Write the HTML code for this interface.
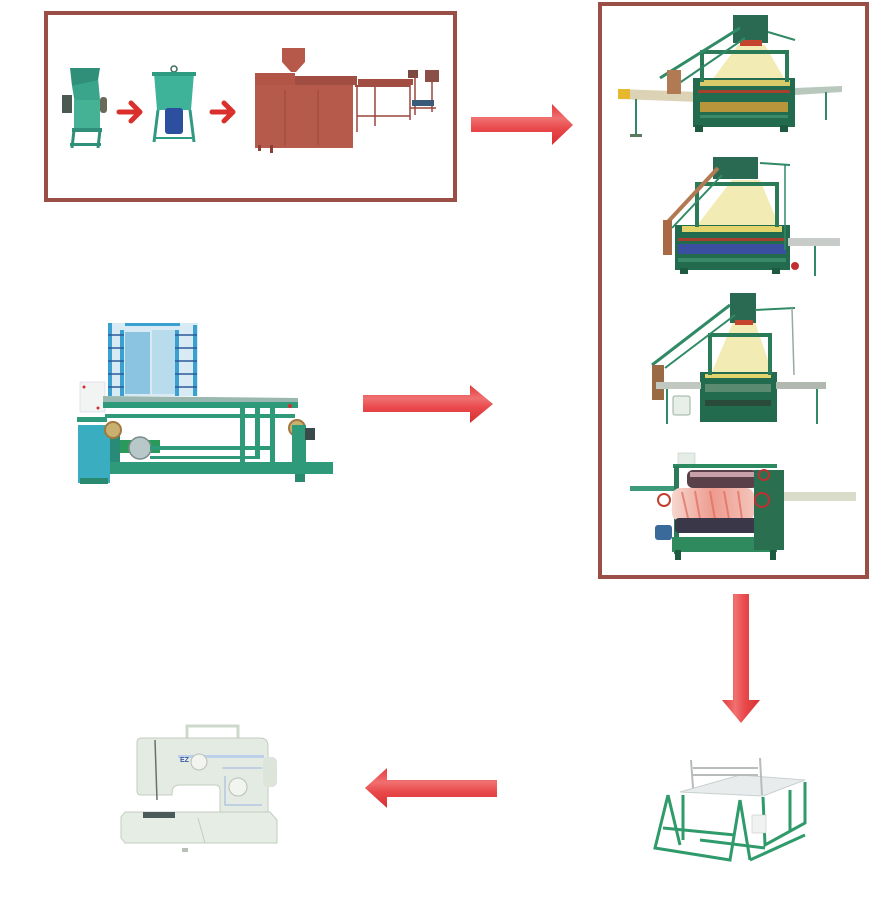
<!DOCTYPE html>
<html><head><meta charset="utf-8"><style>
html,body{margin:0;padding:0;background:#fff;}
svg{display:block;}
text{font-family:"Liberation Sans",sans-serif;}
</style></head><body>
<svg width="880" height="920" viewBox="0 0 880 920" xmlns="http://www.w3.org/2000/svg">
<defs>
<linearGradient id="ah" x1="0" y1="0" x2="0" y2="1">
<stop offset="0" stop-color="#e23a3c"/><stop offset="0.35" stop-color="#f07070"/><stop offset="0.6" stop-color="#e9494b"/><stop offset="1" stop-color="#d62f33"/></linearGradient>
<linearGradient id="av" x1="0" y1="0" x2="1" y2="0">
<stop offset="0" stop-color="#e23a3c"/><stop offset="0.35" stop-color="#f07070"/><stop offset="0.6" stop-color="#e9494b"/><stop offset="1" stop-color="#d62f33"/></linearGradient>
<linearGradient id="pink" x1="0" y1="0" x2="1" y2="0">
<stop offset="0" stop-color="#f6d6cf"/><stop offset="0.5" stop-color="#ee9c8f"/><stop offset="1" stop-color="#f3c4bb"/></linearGradient>
</defs>

<!-- Box 1 -->
<rect x="46" y="13" width="409" height="187" fill="none" stroke="#9a4e45" stroke-width="4"/>
<!-- Box 2 -->
<rect x="600" y="4" width="267" height="573" fill="none" stroke="#9a4e45" stroke-width="4"/>

<!-- crusher -->
<g>
<polygon points="72,86 98,78 100,100 75,104" fill="#3aa58a"/>
<polygon points="70,68 100,68 98,80 72,86" fill="#2f8f78"/>
<rect x="74" y="100" width="26" height="30" fill="#46b295"/>
<rect x="62" y="95" width="10" height="18" fill="#4a5a50"/>
<rect x="100" y="97" width="7" height="16" rx="3" fill="#6a6a5a"/>
<rect x="72" y="128" width="30" height="4" fill="#2f8f78"/>
<line x1="74" y1="130" x2="72" y2="148" stroke="#2f8f78" stroke-width="3"/>
<line x1="100" y1="130" x2="98" y2="148" stroke="#2f8f78" stroke-width="3"/>
<rect x="70" y="143" width="31" height="3" fill="#2f8f78"/>
</g>
<!-- small arrows -->
<path d="M119,112 H138 M131,103 L140,112 L131,121" fill="none" stroke="#d9302c" stroke-width="5" stroke-linecap="round" stroke-linejoin="round"/>
<path d="M212,112 H231 M224,103 L233,112 L224,121" fill="none" stroke="#d9302c" stroke-width="5" stroke-linecap="round" stroke-linejoin="round"/>
<!-- tank -->
<g>
<circle cx="174" cy="69" r="3" fill="none" stroke="#3d6b60" stroke-width="1.5"/>
<polygon points="154,73 194,73 191,110 157,110" fill="#3fb39a"/>
<rect x="152" y="72" width="44" height="4" fill="#2f9a82"/>
<rect x="165" y="108" width="18" height="26" rx="3" fill="#2c4fa0"/>
<line x1="158" y1="110" x2="154" y2="142" stroke="#2f9a82" stroke-width="3"/>
<line x1="190" y1="110" x2="194" y2="142" stroke="#2f9a82" stroke-width="3"/>
<line x1="156" y1="138" x2="192" y2="138" stroke="#2f9a82" stroke-width="2"/>
</g>
<!-- extruder -->
<g>
<polygon points="282,48 305,48 305,62 296,72 291,72 282,62" fill="#b6584a"/>
<rect x="255" y="73" width="40" height="12" fill="#b25446"/>
<rect x="295" y="76" width="62" height="9" fill="#a24d42"/>
<rect x="255" y="85" width="98" height="63" fill="#b65a4c"/>
<line x1="285" y1="90" x2="285" y2="145" stroke="#9a463c" stroke-width="1"/>
<line x1="318" y1="90" x2="318" y2="145" stroke="#9a463c" stroke-width="1"/>
<rect x="270" y="145" width="3" height="8" fill="#8a4036"/>
<rect x="258" y="145" width="3" height="6" fill="#8a4036"/>
<rect x="358" y="79" width="55" height="6" fill="#a24d42"/>
<rect x="355" y="85" width="55" height="2" fill="#a24d42"/>
<line x1="357" y1="85" x2="357" y2="132" stroke="#9a463c" stroke-width="1.5"/>
<line x1="375" y1="87" x2="375" y2="126" stroke="#9a463c" stroke-width="1.5"/>
<line x1="410" y1="85" x2="410" y2="120" stroke="#9a463c" stroke-width="1.5"/>
<line x1="357" y1="116" x2="410" y2="116" stroke="#9a463c" stroke-width="1.5"/>
<rect x="408" y="70" width="10" height="8" fill="#7a4a40"/>
<rect x="425" y="70" width="14" height="12" fill="#8a5048"/>
<line x1="415" y1="75" x2="415" y2="115" stroke="#9a463c" stroke-width="1.5"/>
<line x1="432" y1="80" x2="432" y2="112" stroke="#9a463c" stroke-width="1.5"/>
<rect x="412" y="100" width="22" height="6" fill="#3a5a7a"/>
<line x1="410" y1="108" x2="436" y2="108" stroke="#9a463c" stroke-width="1.5"/>
</g>

<!-- Big arrow 1 -->
<polygon points="471,117 552,117 552,104 573,125 552,145 552,132 471,132" fill="url(#ah)"/>
<!-- Big arrow 2 -->
<polygon points="363,395 470,395 470,385 493,404 470,423 470,412 363,412" fill="url(#ah)"/>
<!-- Down arrow -->
<polygon points="733,594 749,594 749,700 760,700 741,723 722,700 733,700" fill="url(#av)"/>
<!-- Left arrow -->
<polygon points="497,780 387,780 387,768 365,788 387,808 387,797 497,797" fill="url(#ah)"/>

<!-- Loom 1 -->
<g>
<polygon points="618,89 700,92 700,102 618,99" fill="#dcd2b6"/>
<rect x="618" y="89" width="12" height="10" fill="#e6b830"/>
<line x1="636" y1="99" x2="636" y2="135" stroke="#2f8a65" stroke-width="2"/>
<rect x="630" y="134" width="12" height="3" fill="#5a7a60"/>
<polygon points="795,88 842,86 842,92 795,95" fill="#b8c8bc"/>
<line x1="826" y1="92" x2="826" y2="120" stroke="#2f8a65" stroke-width="2"/>
<polygon points="738,45 765,45 785,80 712,80" fill="#efe6a0" opacity="0.8"/>
<rect x="693" y="78" width="102" height="49" fill="#226b4e"/>
<rect x="700" y="80" width="90" height="6" fill="#d8cc6a"/>
<rect x="698" y="90" width="92" height="3" fill="#a8402e"/>
<rect x="700" y="102" width="88" height="10" fill="#b8943a"/>
<rect x="700" y="115" width="88" height="3" fill="#3a8a6a"/>
<rect x="700" y="50" width="4" height="32" fill="#2b7a58"/>
<rect x="785" y="50" width="4" height="32" fill="#2b7a58"/>
<rect x="700" y="50" width="89" height="4" fill="#2b7a58"/>
<rect x="733" y="15" width="35" height="28" fill="#2a6a52"/>
<rect x="740" y="40" width="22" height="6" fill="#c4442e"/>
<line x1="660" y1="78" x2="740" y2="28" stroke="#2f8a65" stroke-width="3"/>
<line x1="675" y1="86" x2="745" y2="38" stroke="#2f8a65" stroke-width="2"/>
<line x1="768" y1="32" x2="795" y2="40" stroke="#2f8a65" stroke-width="2"/>
<rect x="667" y="70" width="14" height="24" fill="#b27a52"/>
<rect x="695" y="125" width="8" height="7" fill="#1e5a40"/>
<rect x="780" y="125" width="8" height="7" fill="#1e5a40"/>
</g>

<!-- Loom 2 -->
<g>
<polygon points="732,180 760,180 780,228 695,228" fill="#efe6a0" opacity="0.8"/>
<rect x="675" y="225" width="115" height="45" fill="#226b4e"/>
<rect x="682" y="226" width="100" height="6" fill="#e2d46a"/>
<rect x="678" y="238" width="108" height="3" fill="#a8402e"/>
<rect x="678" y="244" width="108" height="10" fill="#3a4fa0"/>
<rect x="678" y="258" width="108" height="4" fill="#3a8a6a"/>
<rect x="695" y="185" width="4" height="42" fill="#2b7a58"/>
<rect x="775" y="185" width="4" height="42" fill="#2b7a58"/>
<rect x="695" y="182" width="84" height="4" fill="#2b7a58"/>
<rect x="713" y="157" width="45" height="22" fill="#2a6a52"/>
<line x1="665" y1="225" x2="718" y2="168" stroke="#b27a52" stroke-width="4"/>
<line x1="672" y1="228" x2="722" y2="175" stroke="#2f8a65" stroke-width="2"/>
<line x1="760" y1="163" x2="790" y2="165" stroke="#2f8a65" stroke-width="2"/>
<line x1="785" y1="165" x2="785" y2="250" stroke="#2f8a65" stroke-width="1.5"/>
<rect x="663" y="220" width="9" height="35" fill="#a86a44"/>
<rect x="788" y="238" width="52" height="8" fill="#c8ccc8"/>
<line x1="815" y1="246" x2="815" y2="276" stroke="#2f8a65" stroke-width="2"/>
<circle cx="795" cy="266" r="4" fill="#c03030"/>
<rect x="680" y="268" width="8" height="6" fill="#1e5a40"/>
<rect x="772" y="268" width="8" height="6" fill="#1e5a40"/>
</g>

<!-- Loom 3 -->
<g>
<polygon points="733,322 755,322 772,372 712,372" fill="#efe6a0" opacity="0.8"/>
<rect x="700" y="372" width="77" height="50" fill="#226b4e"/>
<rect x="705" y="374" width="66" height="4" fill="#e2d46a"/>
<rect x="705" y="384" width="66" height="8" fill="#5a8a70"/>
<rect x="705" y="400" width="66" height="6" fill="#2a4a3a"/>
<rect x="708" y="335" width="4" height="40" fill="#2b7a58"/>
<rect x="768" y="335" width="4" height="40" fill="#2b7a58"/>
<rect x="708" y="333" width="64" height="4" fill="#2b7a58"/>
<rect x="730" y="293" width="26" height="30" fill="#2a6a52"/>
<rect x="735" y="320" width="18" height="5" fill="#c4442e"/>
<line x1="652" y1="365" x2="730" y2="305" stroke="#2f8a65" stroke-width="3"/>
<line x1="665" y1="368" x2="735" y2="315" stroke="#2f8a65" stroke-width="2"/>
<line x1="755" y1="310" x2="795" y2="308" stroke="#2f8a65" stroke-width="2"/>
<line x1="792" y1="308" x2="794" y2="375" stroke="#9aa8a0" stroke-width="1.5"/>
<rect x="652" y="365" width="12" height="35" fill="#9a6a44"/>
<rect x="656" y="382" width="45" height="7" fill="#c0c8c0"/>
<rect x="776" y="382" width="50" height="7" fill="#b0b8b0"/>
<line x1="667" y1="389" x2="667" y2="424" stroke="#2f8a65" stroke-width="2"/>
<line x1="817" y1="389" x2="817" y2="424" stroke="#2f8a65" stroke-width="2"/>
<rect x="673" y="396" width="17" height="19" rx="2" fill="#e8efe8" stroke="#9ab0a0" stroke-width="1"/>
</g>

<!-- Loom 4 towel -->
<g>
<rect x="678" y="453" width="17" height="12" fill="#e6ece6" stroke="#b8c4bc" stroke-width="0.5"/>
<rect x="673" y="464" width="104" height="4" fill="#2b8a60"/>
<rect x="674" y="466" width="5" height="88" fill="#2b7a58"/>
<rect x="687" y="470" width="71" height="18" rx="6" fill="#5a4048"/>
<rect x="690" y="472" width="65" height="5" fill="#c8a0a8"/>
<rect x="630" y="486" width="44" height="5" fill="#3a9a7a"/>
<rect x="760" y="492" width="96" height="9" fill="#d8dcc8"/>
<rect x="672" y="488" width="82" height="33" rx="8" fill="url(#pink)"/>
<path d="M682,492 l6,26 M695,491 l5,28 M710,491 l5,28 M724,491 l5,28 M738,491 l4,28" stroke="#e06a5a" stroke-width="2" opacity="0.7"/>
<rect x="675" y="518" width="83" height="15" rx="4" fill="#3a3848"/>
<rect x="672" y="537" width="105" height="15" fill="#2f8a5e"/>
<rect x="754" y="470" width="30" height="80" fill="#2a7050"/>
<circle cx="762" cy="500" r="7" fill="none" stroke="#c03030" stroke-width="2"/>
<circle cx="764" cy="475" r="5" fill="none" stroke="#c03030" stroke-width="2"/>
<circle cx="664" cy="500" r="6" fill="none" stroke="#c04030" stroke-width="2"/>
<rect x="655" y="525" width="17" height="15" rx="3" fill="#3a6a9a"/>
<rect x="675" y="550" width="6" height="10" fill="#1e5a40"/>
<rect x="770" y="550" width="6" height="10" fill="#1e5a40"/>
</g>

<!-- Warping machine -->
<g>
<rect x="108" y="323" width="90" height="73" fill="#d8eaf4"/>
<rect x="108" y="323" width="4" height="73" fill="#3aa0d0"/>
<rect x="120" y="330" width="4" height="66" fill="#3aa0d0"/>
<rect x="193" y="325" width="4" height="71" fill="#3aa0d0"/>
<rect x="175" y="330" width="4" height="66" fill="#3aa0d0"/>
<rect x="125" y="332" width="25" height="62" fill="#8ac4e0"/>
<rect x="152" y="330" width="23" height="64" fill="#b8dcec"/>
<path d="M108,335 H124 M108,348 H124 M108,361 H124 M108,374 H124 M108,387 H124 M175,335 H197 M175,348 H197 M175,361 H197 M175,374 H197 M175,387 H197" stroke="#2a5a9a" stroke-width="1.5"/>
<rect x="125" y="323" width="55" height="3" fill="#3aa0d0"/>
<rect x="80" y="382" width="25" height="30" fill="#f2f4f4" stroke="#ccd" stroke-width="0.5"/>
<circle cx="84" cy="387" r="1.5" fill="#d03030"/>
<circle cx="98" cy="408" r="1.5" fill="#d03030"/>
<polygon points="103,396 298,398 298,404 103,402" fill="#9ab8b0"/>
<rect x="103" y="402" width="195" height="6" fill="#2f9a7a"/>
<rect x="105" y="414" width="190" height="4" fill="#2f9a7a"/>
<rect x="77" y="417" width="30" height="5" fill="#2f9a7a"/>
<rect x="240" y="408" width="5" height="55" fill="#2f9a7a"/>
<rect x="255" y="408" width="5" height="50" fill="#2f9a7a"/>
<rect x="270" y="408" width="5" height="55" fill="#2f9a7a"/>
<rect x="78" y="425" width="32" height="58" fill="#3aaec0"/>
<rect x="110" y="428" width="10" height="40" fill="#2a8a78"/>
<circle cx="113" cy="430" r="8" fill="#c8b070" stroke="#a07840" stroke-width="2"/>
<circle cx="297" cy="428" r="8" fill="#c8b070" stroke="#a07840" stroke-width="2"/>
<rect x="120" y="440" width="40" height="13" fill="#2a9a5a"/>
<circle cx="140" cy="448" r="11" fill="#b8c8c8" stroke="#7a8a8a" stroke-width="1.5"/>
<rect x="150" y="446" width="120" height="4" fill="#2f9a7a"/>
<rect x="150" y="456" width="110" height="3" fill="#2f9a7a"/>
<rect x="292" y="425" width="14" height="40" fill="#2f9a7a"/>
<rect x="305" y="428" width="10" height="12" fill="#3a4a4a"/>
<rect x="110" y="462" width="223" height="12" fill="#2f9a7a"/>
<rect x="295" y="474" width="10" height="8" fill="#2a8a70"/>
<rect x="80" y="478" width="28" height="6" fill="#2a8a70"/>
<circle cx="290" cy="406" r="2" fill="#d03030"/>
</g>

<!-- Sewing machine -->
<g>
<rect x="187" y="726" width="51" height="18" fill="none" stroke="#cfd8cc" stroke-width="3"/>
<path d="M137,742 Q137,738 142,738 L260,738 Q268,738 268,746 L268,812 L220,812 L220,790 Q220,785 215,785 L180,785 Q172,785 172,793 L172,795 L140,795 Q137,795 137,790 Z" fill="#e4ebe2" stroke="#c4ccc2" stroke-width="1"/>
<rect x="263" y="757" width="14" height="30" rx="5" fill="#dde4da"/>
<rect x="178" y="755" width="86" height="3" fill="#bcd0ea"/>
<text x="180" y="762" font-size="7" fill="#3a5aa8" font-weight="bold">EZ</text>
<circle cx="199" cy="762" r="8" fill="#f2f4ef" stroke="#b8c0b8" stroke-width="1"/>
<circle cx="238" cy="787" r="9" fill="#f2f4ef" stroke="#b8c0b8" stroke-width="1"/>
<path d="M222,768 H262 M225,776 V805 H262" stroke="#9ab4e0" stroke-width="1" fill="none"/>
<line x1="155" y1="740" x2="157" y2="800" stroke="#6a7070" stroke-width="1.5"/>
<polygon points="125,812 270,812 277,820 277,843 125,843 121,838 121,817" fill="#e6ede4" stroke="#c4ccc2" stroke-width="1"/>
<rect x="143" y="812" width="32" height="6" fill="#4a5a58"/>
<line x1="198" y1="818" x2="205" y2="843" stroke="#c4ccc2" stroke-width="1"/>
<rect x="182" y="848" width="6" height="4" fill="#b8c0b8"/>
</g>

<!-- Cutting table -->
<g>
<polygon points="680,792 763,796 805,780 740,775" fill="#e8ecec" stroke="#c8d0d0" stroke-width="1"/>
<path d="M691,760 L693,788 M760,758 L762,795 M693,768 H758 M693,775 H758" stroke="#b8bcbc" stroke-width="2" fill="none"/>
<g stroke="#2f9a6a" stroke-width="3" fill="none">
<path d="M668,795 L655,848 L730,860 L740,800"/>
<path d="M668,795 L680,845"/>
<path d="M740,800 L750,860"/>
<path d="M663,828 L735,835"/>
<path d="M683,795 L683,840"/>
<path d="M763,797 L765,845 L805,823 L805,782"/>
<path d="M750,860 L805,835"/>
<path d="M790,790 L790,830"/>
<path d="M700,840 L765,848"/>
</g>
<rect x="752" y="815" width="14" height="18" fill="#f0f2f2" stroke="#b8c0c0" stroke-width="0.5"/>
</g>
</svg>
</body></html>
